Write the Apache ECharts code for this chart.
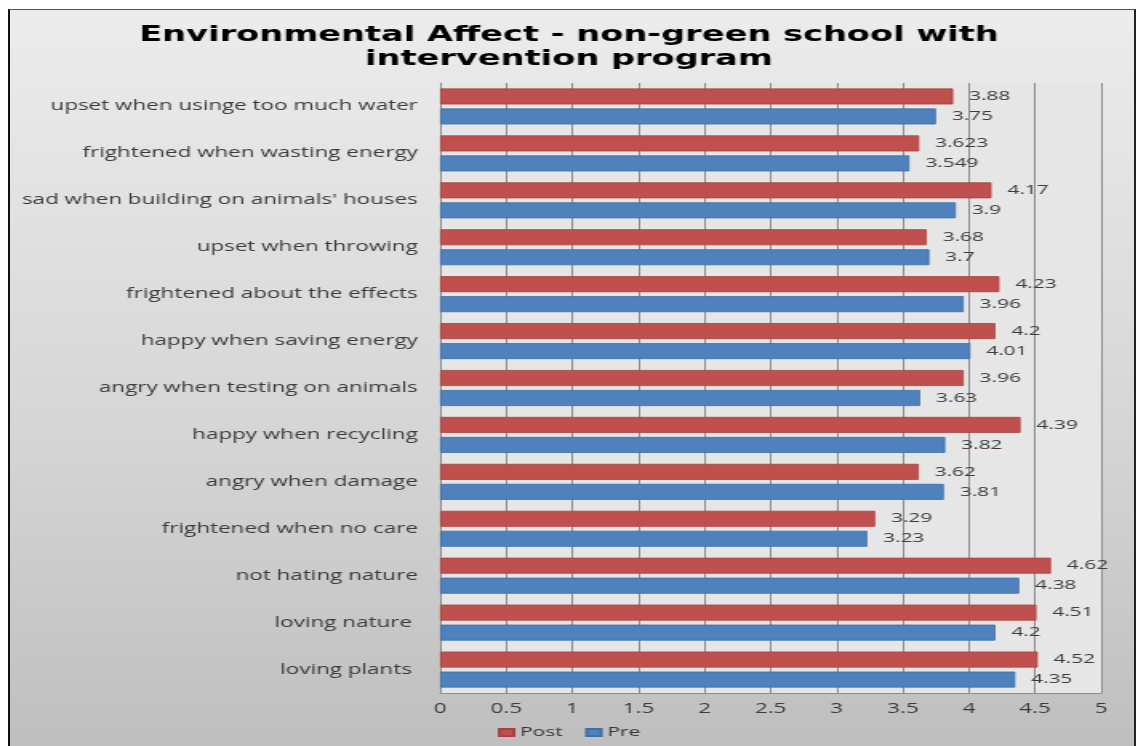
<!DOCTYPE html>
<html>
<head>
<meta charset="utf-8">
<title>Environmental Affect - non-green school with intervention program</title>
<script src="https://cdn.jsdelivr.net/npm/echarts@6/dist/echarts.min.js"></script>
<style>
  html, body { margin: 0; padding: 0; background: #ffffff; width: 1138px; height: 746px; overflow: hidden; }
  #frame {
    position: absolute; left: 8px; top: 9px; width: 1124px; height: 745px;
    border-left: 2px solid #111; border-top: 1px solid #555; border-right: 2px solid #222;
    background: linear-gradient(to bottom, #ececec 0%, #d6d6d6 55%, #bebebe 100%);
  }
  /* chart is laid out on a narrower canvas and widened to the page width */
  #chart {
    position: absolute; left: 0; top: 0; width: 711px; height: 746px;
    transform: scaleX(1.60056); transform-origin: 0 0;
  }
</style>
</head>
<body>
<div id="frame"></div>
<div id="chart"></div>
<script>
// Items of the affect scale, listed top to bottom
const categories = [
  "upset when usinge too much water",
  "frightened when wasting energy",
  "sad when building on animals' houses",
  "upset when throwing",
  "frightened about the effects",
  "happy when saving energy",
  "angry when testing on animals",
  "happy when recycling",
  "angry when damage",
  "frightened when no care",
  "not hating nature",
  "loving nature ",
  "loving plants "
];

// Mean scores after the intervention program
const postValues = [3.88, 3.623, 4.17, 3.68, 4.23, 4.2, 3.96, 4.39, 3.62, 3.29, 4.62, 4.51, 4.52];

// Mean scores before the intervention program
const preValues = [3.75, 3.549, 3.9, 3.7, 3.96, 4.01, 3.63, 3.82, 3.81, 3.23, 4.38, 4.2, 4.35];

const seriesNames = ["Post", "Pre"];

const textFont = "'Open Sans', 'Noto Sans', sans-serif";

const chart = echarts.init(document.getElementById('chart'), null, { renderer: 'canvas' });

const valueLabel = {
  show: true,
  position: 'right',
  distance: 10,
  color: '#3a3a3a',
  fontFamily: textFont,
  fontSize: 13
};

chart.setOption({
  backgroundColor: 'transparent',
  animation: false,
  title: {
    text: 'Environmental Affect - non-green school with\nintervention program',
    left: 'center',
    top: 19,
    textStyle: {
      fontFamily: "'DejaVu Sans', sans-serif",
      fontWeight: 'bold',
      fontSize: 21,
      lineHeight: 24,
      color: '#000'
    }
  },
  legend: {
    data: seriesNames,
    left: 'center',
    top: 721,
    icon: 'rect',
    itemWidth: 9,
    itemHeight: 7,
    itemGap: 14,
    textStyle: { fontFamily: textFont, fontSize: 13, color: '#333', padding: [0, 0, 0, -1] }
  },
  grid: {
    left: 275,
    right: 23,
    top: 83,
    bottom: 53,
    show: true,
    backgroundColor: '#e6e6e6',
    borderWidth: 0
  },
  xAxis: {
    type: 'value',
    min: 0,
    max: 5,
    interval: 0.5,
    axisLine: { show: true, lineStyle: { color: '#8c8c8c', width: 1 } },
    axisTick: { show: false },
    axisLabel: { color: '#3a3a3a', fontFamily: textFont, fontSize: 14, margin: 9 },
    splitLine: { show: true, lineStyle: { color: '#8c8c8c', width: 1 } }
  },
  yAxis: {
    type: 'category',
    data: categories,
    inverse: true,
    axisLine: { show: true, lineStyle: { color: '#8c8c8c', width: 1 } },
    axisTick: { show: false },
    axisLabel: { color: '#3a3a3a', fontFamily: textFont, fontSize: 14, margin: 14 },
    splitLine: { show: false }
  },
  series: [
    {
      name: seriesNames[0],
      type: 'bar',
      data: postValues,
      barWidth: 16,
      barGap: '25%',
      itemStyle: { color: '#C0504D', borderColor: '#a8423f', borderWidth: 0.8 },
      label: valueLabel
    },
    {
      name: seriesNames[1],
      type: 'bar',
      data: preValues,
      barWidth: 16,
      barGap: '25%',
      itemStyle: { color: '#4F81BD', borderColor: '#3f6fa6', borderWidth: 0.8 },
      label: valueLabel
    }
  ]
});
</script>
</body>
</html>
